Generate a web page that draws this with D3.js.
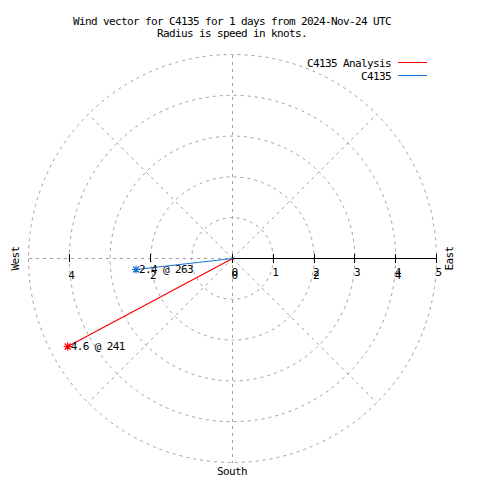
<!DOCTYPE html>
<html><head><meta charset="utf-8">
<script src="https://cdn.jsdelivr.net/npm/d3@7"></script>
<style>
html,body{margin:0;padding:0;background:#fff;}
text{font-family:"DejaVu Sans Mono",monospace;font-size:11px;letter-spacing:-0.62px;fill:#000;}
</style></head>
<body>
<svg id="chart" width="480" height="480"></svg>
<script>
const titleLines = ["Wind vector for C4135 for 1 days from 2024-Nov-24 UTC", "Radius is speed in knots."];
const seriesNames = ["C4135 Analysis", "C4135"];
const seriesColors = ["#ff0000", "#1a73d9"];
const speeds = [4.58, 2.38];
const directions = [241.9, 263.5];
const ringValues = [1, 2, 3, 4, 5];
const spokeAngles = [45, 135, 225, 315];
const rTicks = [0, 1, 2, 3, 4, 5];
const xTicks = [-4, -2, 0, 2, 4];
const compassLabels = ["West", "East", "South"];

const svg = d3.select("#chart");
const cx = 232.5, cy = 258.5, R = 204;
const x = d3.scaleLinear().domain([-5, 5]).range([cx - R, cx + R]);
const y = d3.scaleLinear().domain([-5, 5]).range([cy + R, cy - R]);
const rs = d3.scaleLinear().domain([0, 5]).range([0, R]);
const rad = d => d * Math.PI / 180;
const gridCol = "#a0a0a0";

// title
svg.selectAll("text.title").data(titleLines).join("text")
  .attr("class", "title").attr("x", 232).attr("y", (d, i) => 25 + i * 12.3)
  .attr("text-anchor", "middle").text(d => d);

const grid = svg.append("g").attr("fill", "none").attr("stroke", gridCol)
  .attr("stroke-width", 1).attr("stroke-dasharray", "3,4");
grid.selectAll("circle").data(ringValues).join("circle")
  .attr("cx", x(0)).attr("cy", y(0)).attr("r", d => rs(d));
grid.selectAll("line.spoke").data(spokeAngles).join("line")
  .attr("x1", x(0)).attr("y1", y(0))
  .attr("x2", d => x(5 * Math.sin(rad(d)))).attr("y2", d => y(5 * Math.cos(rad(d))));
grid.append("line").attr("x1", x(0)).attr("x2", x(0)).attr("y1", y(5)).attr("y2", y(-5))
  .attr("shape-rendering", "crispEdges");
grid.append("line").attr("x1", x(-5)).attr("x2", x(0)).attr("y1", y(0)).attr("y2", y(0))
  .attr("shape-rendering", "crispEdges");

// r axis
const ax = svg.append("g").attr("stroke", "#000").attr("stroke-width", 1).attr("shape-rendering", "crispEdges");
ax.append("line").attr("x1", x(0)).attr("x2", x(5)).attr("y1", y(0)).attr("y2", y(0));
ax.selectAll("line.rt").data(rTicks).join("line").attr("class", "rt")
  .attr("x1", d => Math.floor(x(d)) + 0.5).attr("x2", d => Math.floor(x(d)) + 0.5)
  .attr("y1", y(0) - 5).attr("y2", y(0) + 4);
ax.selectAll("line.xt").data(xTicks).join("line").attr("class", "xt")
  .attr("x1", d => Math.floor(x(d)) + 0.5).attr("x2", d => Math.floor(x(d)) + 0.5)
  .attr("y1", y(0) - 5).attr("y2", y(0) + 3);

svg.selectAll("text.rtl").data(rTicks).join("text").attr("class", "rtl")
  .attr("x", d => x(d) + 2).attr("y", y(0) + 17.5).attr("text-anchor", "middle").text(d => d);
svg.selectAll("text.xtl").data(xTicks).join("text").attr("class", "xtl")
  .attr("x", d => x(d) + 2).attr("y", y(0) + 20.5).attr("text-anchor", "middle").text(d => Math.abs(d));

// compass labels
svg.append("text").attr("transform", `translate(19,${cy}) rotate(-90)`).attr("text-anchor", "middle").text(compassLabels[0]);
svg.append("text").attr("transform", `translate(453,${cy}) rotate(-90)`).attr("text-anchor", "middle").text(compassLabels[1]);
svg.append("text").attr("x", 232).attr("y", 475).attr("text-anchor", "middle").text(compassLabels[2]);

// vectors
const pts = speeds.map((s, i) => ({
  s, d: directions[i], c: seriesColors[i],
  px: x(s * Math.sin(rad(directions[i]))), py: y(s * Math.cos(rad(directions[i])))
}));
svg.selectAll("line.vec").data(pts).join("line").attr("class", "vec")
  .attr("x1", x(0)).attr("y1", y(0)).attr("x2", d => d.px).attr("y2", d => d.py)
  .attr("stroke", d => d.c).attr("stroke-width", 1.2);
const h = 4, hd = 3;
svg.selectAll("path.star").data(pts).join("path").attr("class", "star")
  .attr("d", d => `M${d.px - h},${d.py}H${d.px + h}M${d.px},${d.py - h}V${d.py + h}` +
    `M${d.px - hd},${d.py - hd}L${d.px + hd},${d.py + hd}M${d.px - hd},${d.py + hd}L${d.px + hd},${d.py - hd}`)
  .attr("stroke", d => d.c).attr("stroke-width", 1.2).attr("fill", "none");
svg.selectAll("text.vl").data(pts).join("text").attr("class", "vl")
  .attr("x", d => d.px + 3).attr("y", d => d.py + 3.5)
  .text(d => d.s.toFixed(1) + " @ " + Math.floor(d.d));

// legend
const lg = svg.selectAll("g.leg").data(seriesNames).join("g").attr("class", "leg")
  .attr("transform", (d, i) => `translate(0,${i * 12.7})`);
lg.append("text").attr("x", 391).attr("y", 67).attr("text-anchor", "end").text(d => d);
lg.append("line").attr("x1", 398).attr("x2", 427).attr("y1", 62.5).attr("y2", 62.5)
  .attr("stroke", (d, i) => seriesColors[i]).attr("stroke-width", 1).attr("shape-rendering", "crispEdges");
</script>
</body></html>
